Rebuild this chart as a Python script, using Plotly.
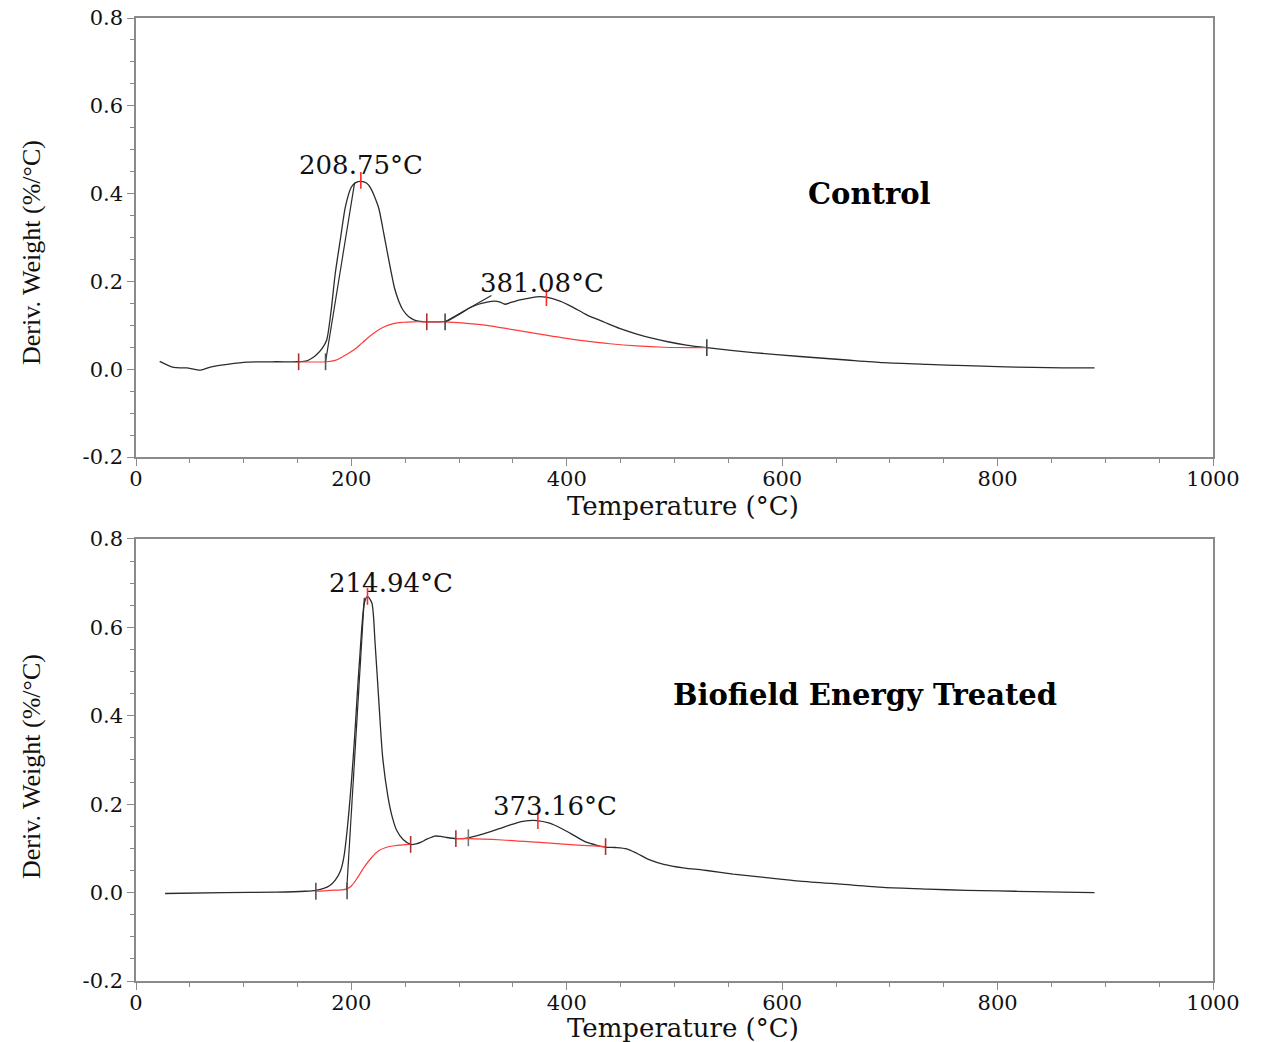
import plotly.graph_objects as go

# ---------------- data: Control ----------------
ctrl_T = [22, 35, 47, 60, 69, 85, 103, 130, 151, 158.5, 164, 168, 173, 177, 181, 185, 190, 194.4,
          200, 204, 209, 214, 218, 222, 225.6, 230, 233, 237, 240, 244, 247.6, 253, 258.6, 264,
          270, 280, 288, 300, 310, 318, 326, 333, 338, 342.6, 348, 356.5, 365, 372, 381, 393.7,
          405, 418.5, 435, 449, 465, 480, 495, 511, 530, 573, 616.5, 660, 694, 735, 771, 800,
          833, 860, 890]
ctrl_D = [0.018, 0.004, 0.003, -0.002, 0.005, 0.011, 0.016, 0.017, 0.017, 0.019, 0.026, 0.034,
          0.048, 0.066, 0.13, 0.218, 0.30, 0.37, 0.415, 0.425, 0.428, 0.424, 0.412, 0.39, 0.365,
          0.31, 0.271, 0.22, 0.185, 0.155, 0.136, 0.12, 0.112, 0.109, 0.108, 0.108, 0.109, 0.125,
          0.140, 0.148, 0.153, 0.155, 0.153, 0.148, 0.152, 0.158, 0.162, 0.165, 0.164, 0.155,
          0.142, 0.124, 0.107, 0.093, 0.080, 0.070, 0.062, 0.055, 0.049, 0.038, 0.029, 0.021,
          0.015, 0.011, 0.008, 0.006, 0.004, 0.003, 0.003]
ctrl_base_T = [151, 177, 185, 193, 201.8, 210, 220, 230, 239, 248, 257, 270, 280, 287, 305, 325.6,
               350, 372, 395, 418.5, 440, 465, 490, 520, 530]
ctrl_base_D = [0.017, 0.017, 0.020, 0.030, 0.043, 0.060, 0.081, 0.096, 0.104, 0.107, 0.108, 0.108,
               0.108, 0.108, 0.105, 0.100, 0.090, 0.081, 0.072, 0.064, 0.058, 0.053, 0.050, 0.049,
               0.049]
ctrl_tan1_T = [176, 203]
ctrl_tan1_D = [0.017, 0.425]
ctrl_tan2_T = [287, 330]
ctrl_tan2_D = [0.108, 0.168]
ctrl_mark_T = [151, 176, 208.75, 270, 287, 381.08, 530]
ctrl_mark_D = [0.017, 0.017, 0.430, 0.108, 0.108, 0.163, 0.049]
ctrl_mark_C = ["#a83232", "#555555", "#ff2a2a", "#a83232", "#444444", "#ff2a2a", "#444444"]

# ---------------- data: Biofield Energy Treated ----------------
trt_T = [27, 82, 130, 157, 167, 175, 180, 185, 190, 193, 196, 200, 203, 206, 208, 210, 212, 215,
         219, 222, 225.6, 229, 234, 238, 242, 248, 255, 260, 264.7, 270, 277.6, 283, 287.6, 297,
         308.6, 320, 336.5, 350, 359, 372, 384, 395, 407, 418, 428, 436, 445, 455.6, 465, 477,
         490, 508, 530, 554.5, 585, 616.5, 655, 694, 735, 771, 800, 833, 860, 890]
trt_D = [-0.002, 0.0, 0.001, 0.003, 0.005, 0.010, 0.016, 0.028, 0.05, 0.08, 0.14, 0.25, 0.352,
         0.47, 0.541, 0.61, 0.655, 0.67, 0.655, 0.564, 0.428, 0.307, 0.216, 0.17, 0.141, 0.12,
         0.109, 0.110, 0.114, 0.121, 0.128, 0.127, 0.125, 0.122, 0.124, 0.131, 0.144, 0.155,
         0.161, 0.163, 0.157, 0.145, 0.129, 0.114, 0.107, 0.103, 0.102, 0.099, 0.089, 0.074,
         0.064, 0.056, 0.050, 0.042, 0.034, 0.026, 0.019, 0.012, 0.008, 0.005, 0.004, 0.002,
         0.001, 0.0]
trt_base1_T = [167, 180, 195, 200, 206, 212, 219, 225, 232, 240, 255]
trt_base1_D = [0.003, 0.005, 0.008, 0.015, 0.035, 0.058, 0.080, 0.094, 0.102, 0.106, 0.109]
trt_base2_T = [297, 308.6, 340, 372, 400, 436]
trt_base2_D = [0.122, 0.122, 0.119, 0.114, 0.109, 0.104]
trt_tan_T = [195.6, 212]
trt_tan_D = [0.005, 0.667]
trt_mark_T = [167, 196, 214.94, 255, 297, 308.6, 373.16, 436]
trt_mark_D = [0.003, 0.004, 0.670, 0.109, 0.122, 0.124, 0.163, 0.104]
trt_mark_C = ["#555555", "#555555", "#ff2a2a", "#a83232", "#a83232", "#777777", "#ff2a2a", "#a83232"]

# ---------------- labels ----------------
x_ticks = [0, 200, 400, 600, 800, 1000]
x_ticktext = ["0", "200", "400", "600", "800", "1000"]
y_ticks = [-0.2, 0.0, 0.2, 0.4, 0.6, 0.8]
y_ticktext = ["-0.2", "0.0", "0.2", "0.4", "0.6", "0.8"]
x_title = "Temperature (°C)"
y_title = "Deriv. Weight (%/°C)"

CURVE = "#2b2b2b"
RED = "#ff3b3b"

fig = go.Figure()


def add_panel(xa, ya, T, D, bases, tans, mT, mD, mC):
    fig.add_trace(go.Scatter(x=T, y=D, mode="lines",
                             line=dict(color=CURVE, width=1.3, shape="spline", smoothing=0.7),
                             xaxis=xa, yaxis=ya, showlegend=False, hoverinfo="skip"))
    for bT, bD in bases:
        fig.add_trace(go.Scatter(x=bT, y=bD, mode="lines", line=dict(color=RED, width=1.2, shape="spline"),
                                 xaxis=xa, yaxis=ya, showlegend=False, hoverinfo="skip"))
    for tT, tD in tans:
        fig.add_trace(go.Scatter(x=tT, y=tD, mode="lines", line=dict(color=CURVE, width=1.2),
                                 xaxis=xa, yaxis=ya, showlegend=False, hoverinfo="skip"))
    fig.add_trace(go.Scatter(x=mT, y=mD, mode="markers",
                             marker=dict(symbol="line-ns", size=12, line=dict(color=mC, width=1.6)),
                             xaxis=xa, yaxis=ya, showlegend=False, hoverinfo="skip"))


add_panel("x", "y", ctrl_T, ctrl_D, [(ctrl_base_T, ctrl_base_D)],
          [(ctrl_tan1_T, ctrl_tan1_D), (ctrl_tan2_T, ctrl_tan2_D)],
          ctrl_mark_T, ctrl_mark_D, ctrl_mark_C)
add_panel("x2", "y2", trt_T, trt_D, [(trt_base1_T, trt_base1_D), (trt_base2_T, trt_base2_D)],
          [(trt_tan_T, trt_tan_D)], trt_mark_T, trt_mark_D, trt_mark_C)

TICKFONT = dict(family="DejaVu Serif", size=21, color="#111111")
AXLINE = "#8a8a8a"

xcommon = dict(range=[0, 1000], tickvals=x_ticks, ticktext=x_ticktext, ticks="outside", ticklen=7,
               tickwidth=1.2, tickcolor=AXLINE, showline=True, linecolor=AXLINE, linewidth=1.5,
               mirror=True, showgrid=False, zeroline=False, tickfont=TICKFONT, ticklabelstandoff=-5,
               automargin=False,
               minor=dict(dtick=50, ticks="outside", ticklen=4, tickcolor=AXLINE, showgrid=False))
ycommon = dict(range=[-0.2, 0.8], tickvals=y_ticks, ticktext=y_ticktext, ticks="outside", ticklen=7,
               tickwidth=1.2, tickcolor=AXLINE, showline=True, linecolor=AXLINE, linewidth=1.5,
               mirror=True, showgrid=False, zeroline=False, tickfont=TICKFONT, automargin=False,
               minor=dict(dtick=0.05, ticks="outside", ticklen=4, tickcolor=AXLINE, showgrid=False))

fig.update_layout(
    width=1266, height=1042,
    margin=dict(l=136, r=53, t=18, b=61),
    paper_bgcolor="white", plot_bgcolor="white",
    font=dict(family="DejaVu Serif", color="#111111"),
    xaxis=dict(domain=[0, 1], anchor="y", **xcommon),
    yaxis=dict(domain=[0.5441, 1], anchor="x", **ycommon),
    xaxis2=dict(domain=[0, 1], anchor="y2", **xcommon),
    yaxis2=dict(domain=[0, 0.459], anchor="x2", **ycommon),
)

LBL = dict(family="DejaVu Serif", size=26, color="#111111")
BOLD = dict(family="DejaVu Serif", size=29, color="#000000", weight="bold")

fig.add_annotation(x=209, y=0.465, xref="x", yref="y", text="208.75°C", font=LBL, showarrow=False)
fig.add_annotation(x=377, y=0.196, xref="x", yref="y", text="381.08°C", font=LBL, showarrow=False)
fig.add_annotation(x=681, y=0.40, xref="x", yref="y", text="Control", font=BOLD, showarrow=False)
fig.add_annotation(x=237, y=0.70, xref="x2", yref="y2", text="214.94°C", font=LBL, showarrow=False)
fig.add_annotation(x=389, y=0.195, xref="x2", yref="y2", text="373.16°C", font=LBL, showarrow=False)
fig.add_annotation(x=677, y=0.447, xref="x2", yref="y2", text="Biofield Energy Treated", font=BOLD,
                   showarrow=False)

# axis titles (positions in screen pixels converted to paper fractions)
plot_top, plot_bottom = 18, 981
def py_to_paper(py):
    return (plot_bottom - py) / (plot_bottom - plot_top)

XT = dict(family="DejaVu Serif", size=26, color="#111111")
YT = dict(family="Liberation Serif", size=26, color="#111111")
for ypx in (506, 1028):
    fig.add_annotation(x=0.508, y=py_to_paper(ypx), xref="paper", yref="paper", text=x_title,
                       showarrow=False, xanchor="center", yanchor="middle", font=XT)
for ypx in (253, 767):
    fig.add_annotation(x=(31 - 136) / (1266 - 136 - 53), y=py_to_paper(ypx), xref="paper", yref="paper",
                       text=y_title, textangle=-90, showarrow=False, xanchor="center",
                       yanchor="middle", font=YT)

fig.write_html("out.html")
